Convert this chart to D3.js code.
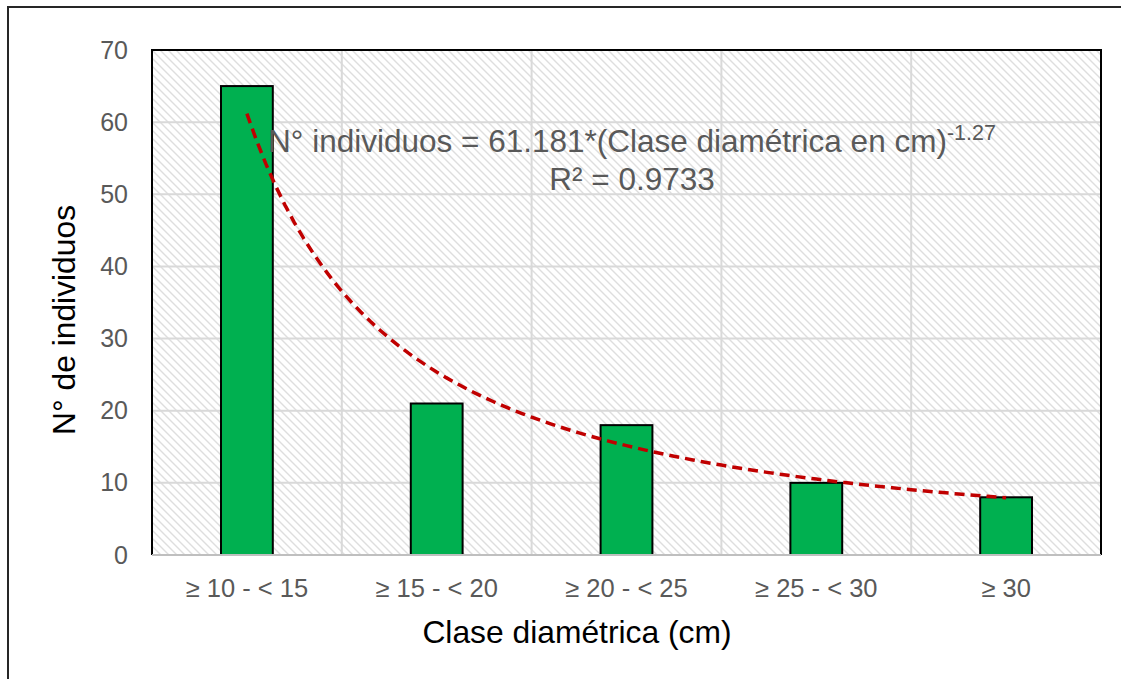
<!DOCTYPE html>
<html>
<head>
<meta charset="utf-8">
<script src="https://cdn.jsdelivr.net/npm/d3@7"></script>
<style>
  body { margin: 0; background: #fff; }
  svg { display: block; font-family: "Liberation Sans", Arial, sans-serif; }
</style>
</head>
<body>
<div id="chart"></div>
<script>
// data
const categories = ['≥ 10 - < 15', '≥ 15 - < 20', '≥ 20 - < 25', '≥ 25 - < 30', '≥ 30'];
const counts = [65, 21, 18, 10, 8];
const yTicks = [0, 10, 20, 30, 40, 50, 60, 70];
// power trendline from the label: y = a * x^b
const trendA = 61.181;
const trendB = -1.27;

const W = 1121, H = 679;
const margin = { left: 152, top: 50, right: 20, bottom: 124 };
const width = W - margin.left - margin.right;
const height = H - margin.top - margin.bottom;

const svg = d3.select('#chart').append('svg')
  .attr('width', W)
  .attr('height', H);

// hatch pattern for the plot background
const defs = svg.append('defs');
defs.append('pattern')
  .attr('id', 'hatch')
  .attr('patternUnits', 'userSpaceOnUse')
  .attr('width', 8)
  .attr('height', 8)
  .append('path')
  .attr('d', 'M0,0 L8,8 M-2,6 L2,10 M6,-2 L10,2')
  .attr('stroke', '#dedede')
  .attr('stroke-width', 1.4);

// outer chart border (runs off the right and bottom)
svg.append('rect')
  .attr('x', 8).attr('y', 7)
  .attr('width', W + 20).attr('height', H + 20)
  .attr('fill', 'none')
  .attr('stroke', '#262626')
  .attr('stroke-width', 2);

const g = svg.append('g')
  .attr('transform', 'translate(' + margin.left + ',' + margin.top + ')');

const x = d3.scaleBand()
  .domain(categories)
  .range([0, width])
  .paddingInner(0.727)
  .paddingOuter(0.3635);

const y = d3.scaleLinear()
  .domain([0, 70])
  .range([height, 0]);

const step = x.step();
const center = d => x(d) + x.bandwidth() / 2;

g.append('rect')
  .attr('width', width)
  .attr('height', height)
  .attr('fill', 'url(#hatch)');

// horizontal gridlines
g.append('g')
  .selectAll('line')
  .data(yTicks.filter(t => t > 0 && t < 70))
  .enter().append('line')
  .attr('x1', 0).attr('x2', width)
  .attr('y1', d => y(d)).attr('y2', d => y(d))
  .attr('stroke', '#d9d9d9')
  .attr('stroke-width', 2);

// vertical gridlines between categories
g.append('g')
  .selectAll('line')
  .data(categories.slice(1))
  .enter().append('line')
  .attr('x1', d => center(d) - step / 2)
  .attr('x2', d => center(d) - step / 2)
  .attr('y1', 0).attr('y2', height)
  .attr('stroke', '#d9d9d9')
  .attr('stroke-width', 2);

// bars
g.append('g')
  .selectAll('rect')
  .data(counts)
  .enter().append('rect')
  .attr('x', (d, i) => x(categories[i]))
  .attr('y', d => y(d))
  .attr('width', x.bandwidth())
  .attr('height', d => height - y(d))
  .attr('fill', '#00b050')
  .attr('stroke', '#000')
  .attr('stroke-width', 2);

// trendline
const xi = d3.scaleLinear()
  .domain([1, categories.length])
  .range([center(categories[0]), center(categories[categories.length - 1])]);

const trendPts = d3.range(1, categories.length + 0.001, 0.05).map(t => [t, trendA * Math.pow(t, trendB)]);

g.append('path')
  .datum(trendPts)
  .attr('fill', 'none')
  .attr('stroke', '#c00000')
  .attr('stroke-width', 3.5)
  .attr('stroke-dasharray', '10,6')
  .attr('d', d3.line()
    .x(d => xi(d[0]))
    .y(d => y(d[1])));

// plot border
g.append('path')
  .attr('d', 'M0,' + height + ' V0 H' + width + ' V' + height)
  .attr('fill', 'none')
  .attr('stroke', '#000')
  .attr('stroke-width', 2);
g.append('line')
  .attr('x1', 0).attr('x2', width)
  .attr('y1', height).attr('y2', height)
  .attr('stroke', '#bfbfbf')
  .attr('stroke-width', 2);

// y axis labels
const yAxis = g.append('g')
  .call(d3.axisLeft(y).tickValues(yTicks).tickSize(0).tickPadding(24));
yAxis.select('.domain').remove();
yAxis.selectAll('text')
  .attr('font-size', 25)
  .attr('fill', '#595959')
  .attr('font-family', '"Liberation Sans", Arial, sans-serif');

// x axis labels
const xAxis = g.append('g')
  .attr('transform', 'translate(0,' + height + ')')
  .call(d3.axisBottom(x).tickSize(0).tickPadding(24));
xAxis.select('.domain').remove();
xAxis.selectAll('text')
  .attr('font-size', 25.5)
  .attr('fill', '#595959')
  .attr('font-family', '"Liberation Sans", Arial, sans-serif');

// axis titles
svg.append('text')
  .attr('x', 577).attr('y', 643)
  .attr('text-anchor', 'middle')
  .attr('font-size', 31.8)
  .attr('fill', '#000')
  .text('Clase diamétrica (cm)');

svg.append('text')
  .attr('transform', 'translate(75,320) rotate(-90)')
  .attr('text-anchor', 'middle')
  .attr('font-size', 31.8)
  .attr('fill', '#000')
  .text('N° de individuos');

// trendline label
const eq = svg.append('text')
  .attr('x', 632).attr('y', 152)
  .attr('text-anchor', 'middle')
  .attr('font-size', 31.5)
  .attr('fill', '#595959');
eq.append('tspan').text('N° individuos = 61.181*(Clase diamétrica en cm)');
eq.append('tspan')
  .attr('font-size', 21.5)
  .attr('dy', -12)
  .text('-1.27');

svg.append('text')
  .attr('x', 632).attr('y', 190)
  .attr('text-anchor', 'middle')
  .attr('font-size', 31.5)
  .attr('fill', '#595959')
  .text('R² = 0.9733');
</script>
</body>
</html>
